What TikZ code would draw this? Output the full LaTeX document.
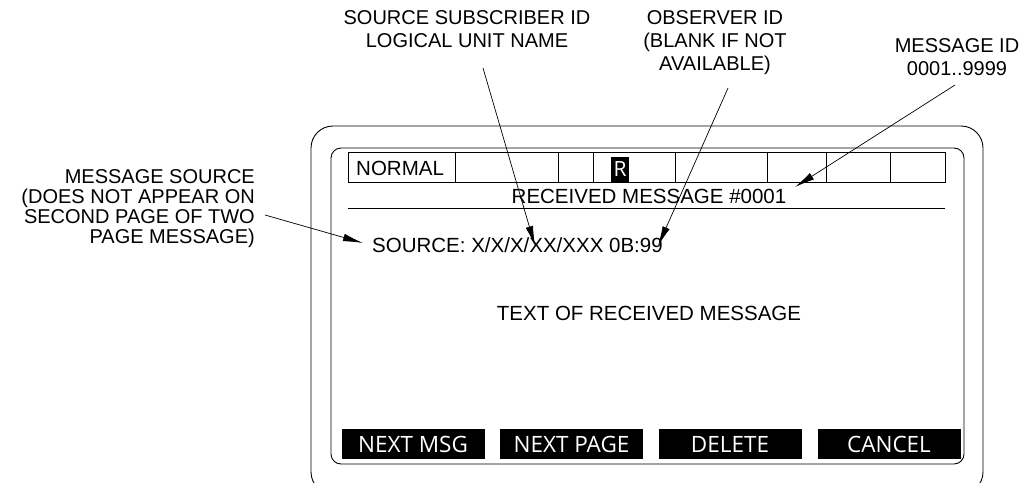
\documentclass[tikz,border=0pt]{standalone}
\usepackage{fontspec}
\setmainfont{Liberation Sans}
\newfontfamily\lcdfont{Open Sans}
\usetikzlibrary{arrows.meta}

\begin{document}
\begin{tikzpicture}[x=1pt, y=-1pt,
    frame/.style={draw, line width=0.9pt, rounded corners=#1},
    cell/.style={draw, line width=0.7pt},
    softkey/.style={fill=black, text=white, font=\lcdfont\fontsize{22.5}{22.5}\selectfont, minimum width=143pt, minimum height=30pt, inner sep=0pt},
    callout/.style={font=\fontsize{20}{23}\selectfont, inner sep=0pt},
    lcd/.style={font=\fontsize{20.5}{20.5}\selectfont, inner sep=0pt},
    pointer/.style={-{Latex[length=20pt,width=7.5pt]}, line width=0.7pt}
]
\useasboundingbox (0,0) rectangle (1025,482);

% terminal housing and screen
\draw[frame=22pt] (311,126) rectangle (983,494);
\draw[frame=10pt] (331,148) rectangle (964,464);

% status line
\draw[cell] (348,152) rectangle (945,182);
\foreach \x in {455,558,593,675,767,826,890}
    \draw[cell] (\x,152) -- (\x,182);
\node[lcd, anchor=base west] (mode) at (356,175) {NORMAL};
\node[fill=black, text=white, font=\lcdfont\fontsize{21}{21}\selectfont, minimum width=18pt, minimum height=25pt, inner sep=0pt] (rflag) at (620,169.5) {R};

\node[lcd, anchor=base] (title) at (649,203) {RECEIVED MESSAGE \#0001};
\draw[cell] (348,208) -- (945,208);

\node[lcd, anchor=base west] (source) at (372,252) {SOURCE: X/X/X/XX/XXX 0B:99};
\node[lcd, anchor=base] (body) at (649,320) {TEXT OF RECEIVED MESSAGE};

% soft keys
\node[softkey] (nextmsg) at (413,444) {NEXT MSG};
\node[softkey] (nextpage) at (571.5,444) {NEXT PAGE};
\node[softkey] (delete) at (730,444) {DELETE};
\node[softkey] (cancel) at (889,444) {CANCEL};

% callouts
\node[callout, align=right, anchor=north east, font=\fontsize{20}{20}\selectfont] (srclbl) at (255,169)
    {MESSAGE SOURCE\\(DOES NOT APPEAR ON\\SECOND PAGE OF TWO\\PAGE MESSAGE)};
\node[callout, align=center, anchor=north] (subscr) at (467,10)
    {SOURCE SUBSCRIBER ID\\LOGICAL UNIT NAME};
\node[callout, align=center, anchor=north] (observer) at (715,10)
    {OBSERVER ID\\(BLANK IF NOT\\AVAILABLE)};
\node[callout, align=center, anchor=north] (msgid) at (957,38)
    {MESSAGE ID\\0001..9999};

\coordinate (srcfrom) at (265,215);
\coordinate (srcto) at (363,243);
\coordinate (subfrom) at (483,68);
\coordinate (subto) at (535,246);
\coordinate (obsfrom) at (728,88);
\coordinate (obsto) at (658,246);
\coordinate (idfrom) at (955,85);
\coordinate (idto) at (795,187);

\draw[pointer] (srcfrom) -- (srcto);
\draw[pointer] (subfrom) -- (subto);
\draw[pointer] (obsfrom) -- (obsto);
\draw[pointer] (idfrom) -- (idto);
\end{tikzpicture}
\end{document}
